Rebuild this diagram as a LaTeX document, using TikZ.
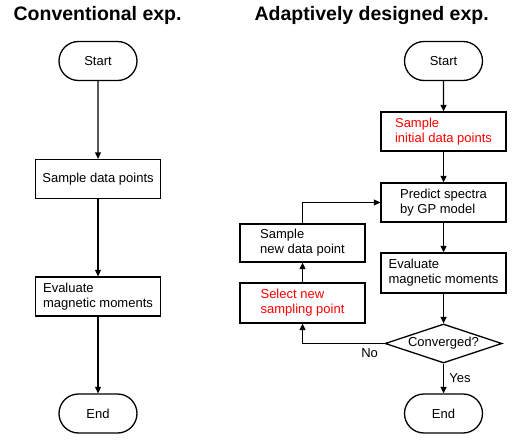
\documentclass[tikz,border=0pt]{standalone}
\usepackage{fontspec}
\setmainfont{Liberation Sans}
\usetikzlibrary{shapes.misc,shapes.geometric,arrows.meta}

\begin{document}
\begin{tikzpicture}[x=1pt,y=-1pt,line width=1.3pt,
    >={Triangle[length=6.5pt,width=6pt]},
    font=\fontsize{13}{15}\selectfont,
    term/.style={draw,rounded rectangle,minimum width=78pt,minimum height=39pt,inner sep=0pt},
    proc/.style={draw,rectangle,minimum width=125pt,minimum height=39pt,align=left,inner sep=0pt},
    decide/.style={draw,diamond,aspect=3,minimum width=117pt,minimum height=39pt,inner sep=0pt},
    heading/.style={anchor=base west,inner sep=0pt,font=\fontsize{19.5}{22}\selectfont\bfseries}]
    \useasboundingbox (0,0) rectangle (517,441);
    % conventional
    \node [heading] (titleL) at (13,20.5) {Conventional exp.};
    \node [term] (startL) at (98,61) {Start};
    \node [proc] (sampL) at (98,179) {Sample data points};
    \node [proc] (evalL) at (98,296.5) {Evaluate\\magnetic moments};
    \node [term] (endL) at (98,413.5) {End};
    \draw [->] (startL)--(sampL);
    \draw [->] (sampL)--(evalL);
    \draw [->] (evalL)--(endL);
    % adaptive
    \node [heading] (titleR) at (254,20.5) {Adaptively designed exp.};
    \node [term] (startR) at (443.5,61) {Start};
    \node [proc,text=red] (initR) at (443.5,131.5) {Sample\\initial data points};
    \node [proc] (predR) at (443.5,202.5) {Predict spectra\\by GP model};
    \node [proc,minimum height=40pt] (evalR) at (443.5,273) {Evaluate\\magnetic moments};
    \node [decide] (convR) at (443.5,343.5) {Converged?};
    \node [term] (endR) at (443.5,413.5) {End};
    \node [proc,minimum height=38pt] (newR) at (302.5,243) {Sample\\new data point};
    \node [proc,minimum height=40pt,text=red] (selR) at (302.5,303) {Select new\\sampling point};
    \draw [->] (startR)--(initR);
    \draw [->] (initR)--(predR);
    \draw [->] (predR)--(evalR);
    \draw [->] (evalR)--(convR);
    \draw [->] (convR)--(endR) node [midway,right=2pt] {Yes};
    \draw [->] (convR.west) -| node [pos=0.09,below=1pt] {No} (selR.south);
    \draw [->] (selR)--(newR);
    \draw [->] (newR.north) |- (predR.west);
\end{tikzpicture}
\end{document}
